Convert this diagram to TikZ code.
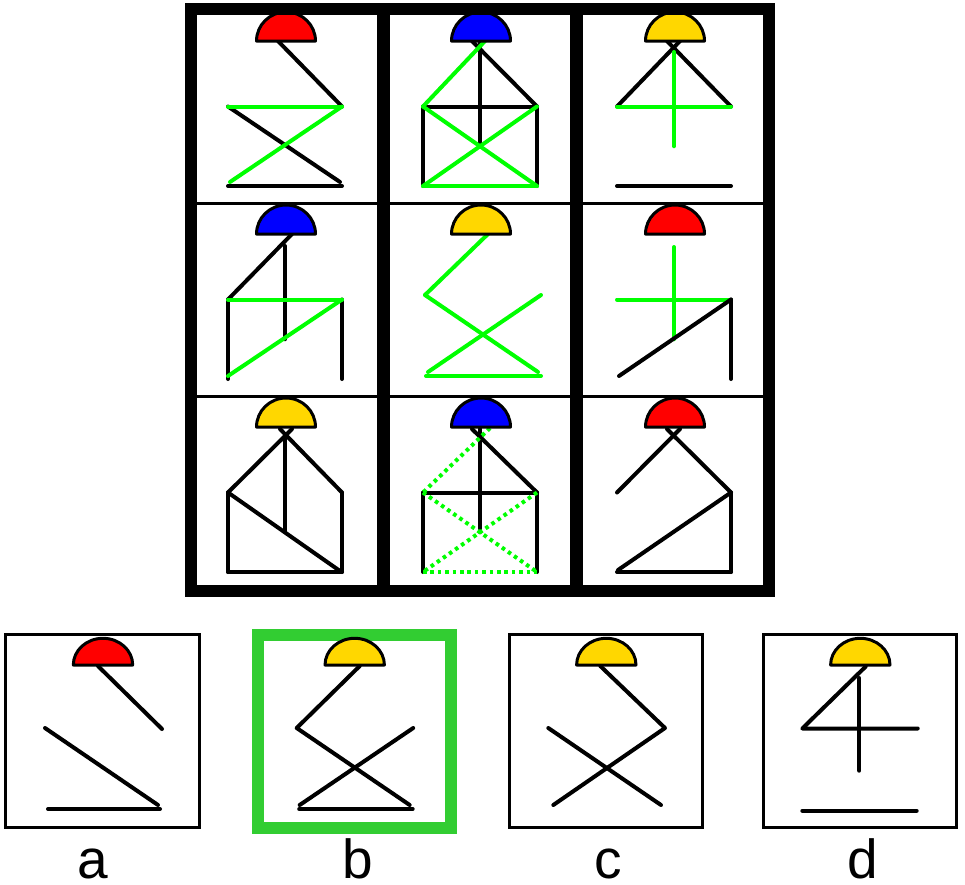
\documentclass[tikz,border=0pt]{standalone}
\usepackage{fontspec}
\setmainfont{Liberation Sans}
\definecolor{ggreen}{RGB}{0,255,0}
\definecolor{lampgold}{RGB}{255,215,0}
\definecolor{boxgreen}{RGB}{50,205,50}
\newcommand\stdpts{%
  \coordinate (L) at (-58,65.5);
  \coordinate (R) at (56,65.5);
  \coordinate (Lb) at (-58,145);
  \coordinate (Rb) at (56,145);
  \coordinate (C) at (-1,105.25);}
\newcommand\lampgrid[1]{\draw[lampst,fill=#1] (-29.5,0) arc[start angle=180,end angle=0,x radius=29.5pt,y radius=29pt] -- cycle;}
\newcommand\lampans[1]{\draw[lampst,fill=#1] (-29.7,0) arc[start angle=180,end angle=0,x radius=29.7pt,y radius=26.7pt] -- cycle;}
\begin{document}
\begin{tikzpicture}[x=1pt,y=-1pt,
  figline/.style={line width=4pt,line cap=round,line join=round},
  blk/.style={figline,draw=black},
  grn/.style={figline,draw=ggreen},
  dotg/.style={draw=ggreen,line width=4pt,dash pattern=on 3.6pt off 3.8pt},
  lampst/.style={draw=black,line width=3pt,line join=round},
  ansbox/.style={draw=black,line width=3pt},
  letter/.style={font=\fontsize{55}{60}\selectfont,anchor=base,inner sep=0pt}]
\useasboundingbox (0,0) rectangle (965,884);
\fill[white] (0,0) rectangle (965,884);

% ---------- row 1 ----------
\begin{scope}[shift={(286,41)}]
  \stdpts
  \draw[blk] (-8,0) -- (R);
  \draw[blk] (L) -- (54,141);
  \draw[blk] (Lb) -- (Rb);
  \draw[grn] (L) -- (R);
  \draw[grn] (R) -- (-56,141);
  \lampgrid{red}
\end{scope}
\begin{scope}[shift={(481,41)}]
  \stdpts
  \draw[blk] (-9,0) -- (R);
  \draw[blk] (-1,2) -- (C);
  \draw[blk] (L) -- (R);
  \draw[blk] (L) -- (Lb);
  \draw[blk] (R) -- (Rb);
  \draw[grn] (4,0) -- (L);
  \draw[grn] (L) -- (Rb);
  \draw[grn] (R) -- (Lb);
  \draw[grn] (Lb) -- (Rb);
  \lampgrid{blue}
\end{scope}
\begin{scope}[shift={(675,41)}]
  \stdpts
  \draw[blk] (-8,0) -- (R);
  \draw[blk] (5,0) -- (L);
  \draw[blk] (Lb) -- (Rb);
  \draw[grn] (-1,11) -- (C);
  \draw[grn] (L) -- (R);
  \lampgrid{lampgold}
\end{scope}

% ---------- row 2 ----------
\begin{scope}[shift={(286,234)}]
  \stdpts
  \draw[blk] (6,0) -- (L);
  \draw[blk] (-1,12) -- (C);
  \draw[blk] (L) -- (Lb);
  \draw[blk] (R) -- (Rb);
  \draw[grn] (L) -- (R);
  \draw[grn] (R) -- (-58,142);
  \lampgrid{blue}
\end{scope}
\begin{scope}[shift={(481,234)}]
  \coordinate (L5) at (-56,61);
  \coordinate (R5) at (60,61);
  \draw[grn] (7,0) -- (L5);
  \draw[grn] (L5) -- (57,138);
  \draw[grn] (R5) -- (-53,138);
  \draw[grn] (-55,142) -- (60,142);
  \lampgrid{lampgold}
\end{scope}
\begin{scope}[shift={(675,234)}]
  \stdpts
  \draw[grn] (-1,13) -- (C);
  \draw[grn] (L) -- (R);
  \draw[blk] (R) -- (-56,142);
  \draw[blk] (R) -- (Rb);
  \lampgrid{red}
\end{scope}

% ---------- row 3 ----------
\begin{scope}[shift={(286,427)}]
  \stdpts
  \draw[blk] (-6,2) -- (R);
  \draw[blk] (6,2) -- (L);
  \draw[blk] (-1,9) -- (C);
  \draw[blk] (L) -- (Lb);
  \draw[blk] (R) -- (Rb);
  \draw[blk] (Lb) -- (Rb);
  \draw[blk] (L) -- (54,144);
  \lampgrid{lampgold}
\end{scope}
\begin{scope}[shift={(481,427)}]
  \stdpts
  \draw[blk] (-9,2) -- (R);
  \draw[blk] (-1,2) -- (C);
  \draw[blk] (L) -- (R);
  \draw[blk] (L) -- (Lb);
  \draw[blk] (R) -- (Rb);
  \draw[dotg] (9,1) -- (L);
  \draw[dotg] (L) -- (Rb);
  \draw[dotg] (R) -- (Lb);
  \draw[dotg] (Lb) -- (Rb);
  \lampgrid{blue}
\end{scope}
\begin{scope}[shift={(675,427)}]
  \stdpts
  \draw[blk] (-8,2) -- (R);
  \draw[blk] (5,2) -- (L);
  \draw[blk] (R) -- (Rb);
  \draw[blk] (R) -- (-57,143);
  \draw[blk] (Lb) -- (Rb);
  \lampgrid{red}
\end{scope}

% ---------- grid frame ----------
\draw[line width=3pt] (197,203) -- (763,203);
\draw[line width=3pt] (197,396.5) -- (763,396.5);
\draw[line width=12pt] (191,9) rectangle (769,591);
\draw[line width=13pt] (383.5,3) -- (383.5,597);
\draw[line width=13pt] (576.5,3) -- (576.5,597);

% ---------- answers ----------
\draw[ansbox] (5.5,634.8) rectangle (199.5,827.8);
\begin{scope}[shift={(103,665)}]
  \draw[blk] (-5,1) -- (59,64);
  \draw[blk] (-58,63) -- (55,140);
  \draw[blk] (-55,144) -- (57,144);
  \lampans{red}
\end{scope}
\node[letter] (la) at (93,878) {a};

\draw[draw=boxgreen,line width=12pt] (257.8,634.7) rectangle (451.2,827.5);
\begin{scope}[shift={(354.7,665)}]
  \draw[blk] (5,1) -- (-58,63) -- (55,140);
  \draw[blk] (58.5,63) -- (-55,140);
  \draw[blk] (-55.5,144) -- (58,144);
  \lampans{lampgold}
\end{scope}
\node[letter] (lb) at (358,878) {b};

\draw[ansbox] (509.8,634.8) rectangle (702.8,827.8);
\begin{scope}[shift={(606.3,665)}]
  \draw[blk] (-6,1) -- (58.7,63) -- (-53,140);
  \draw[blk] (-58,63) -- (54.7,140);
  \lampans{lampgold}
\end{scope}
\node[letter] (lc) at (608,878) {c};

\draw[ansbox] (763.8,634.8) rectangle (956.8,827.8);
\begin{scope}[shift={(860.3,665)}]
  \draw[blk] (5.4,1.5) -- (-58,63.5) -- (57.4,63.5);
  \draw[blk] (-1,13) -- (-1,105.7);
  \draw[blk] (-58,145.7) -- (56.4,145.7);
  \lampans{lampgold}
\end{scope}
\node[letter] (ld) at (863,878) {d};
\end{tikzpicture}
\end{document}
